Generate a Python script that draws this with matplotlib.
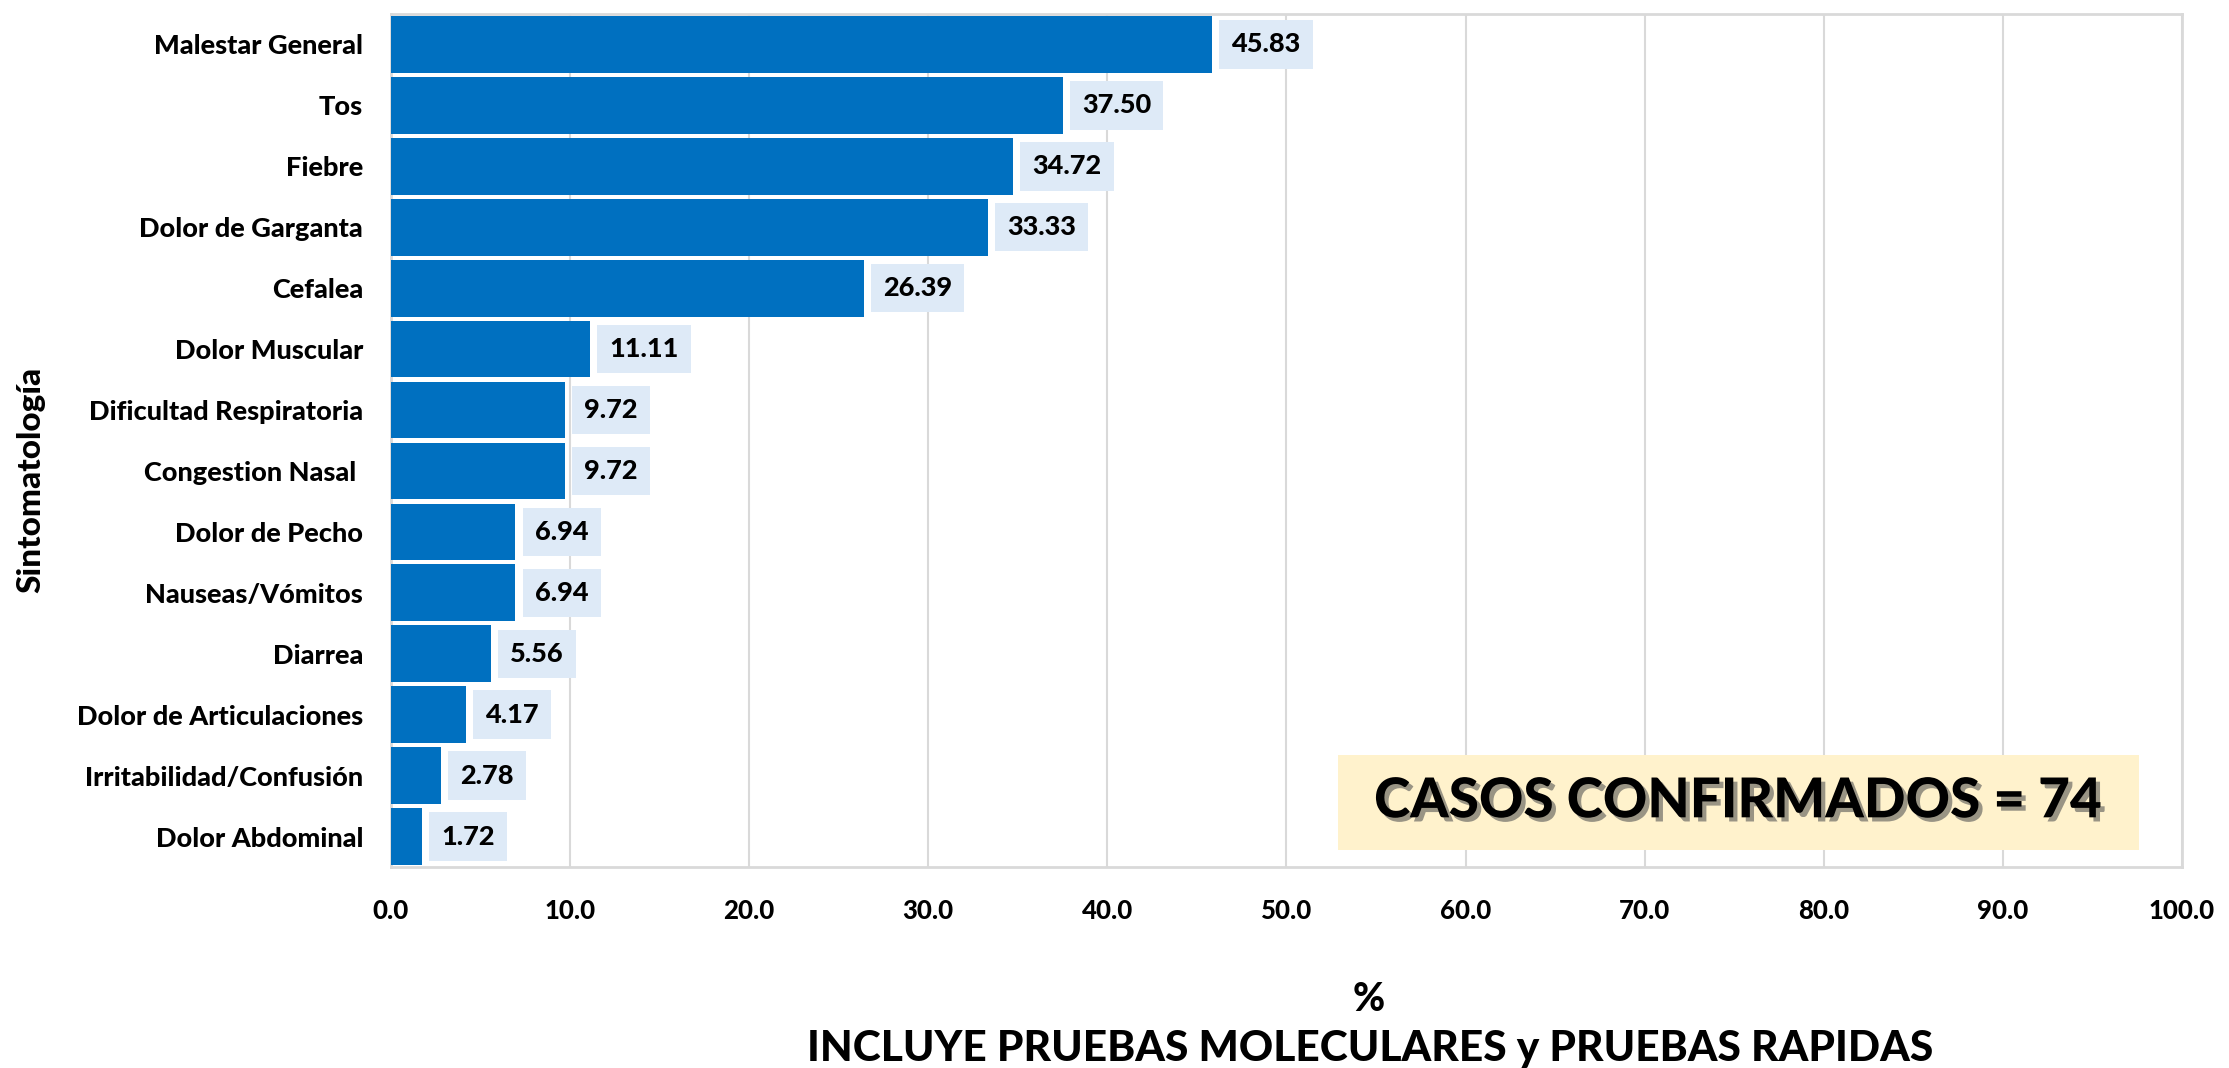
import matplotlib
matplotlib.use("Agg")
import matplotlib.pyplot as plt
import matplotlib.patheffects as pe
from matplotlib.patches import Rectangle
import numpy as np

plt.rcParams['font.family'] = ['Lato', 'DejaVu Sans']

sintomas = ['Malestar General', 'Tos', 'Fiebre', 'Dolor de Garganta', 'Cefalea',
            'Dolor Muscular', 'Dificultad Respiratoria', 'Congestion Nasal ',
            'Dolor de Pecho', 'Nauseas/Vómitos', 'Diarrea', 'Dolor de Articulaciones',
            'Irritabilidad/Confusión', 'Dolor Abdominal']
porcentaje = [45.83, 37.50, 34.72, 33.33, 26.39, 11.11, 9.72, 9.72, 6.94, 6.94,
              5.56, 4.17, 2.78, 1.72]
xticks = np.arange(0, 101, 10)

W = 'black'

fig = plt.figure(figsize=(22.29, 10.68), dpi=100)
ax = fig.add_axes([0.1754, 0.1882, 0.9789 - 0.1754, 0.9869 - 0.1882])

y = np.arange(len(sintomas))
ax.barh(y, porcentaje, height=0.93, color='#0070C0', zorder=3)
ax.set_ylim(len(sintomas) - 0.5, -0.5)
ax.set_xlim(0, 100)

for yi, v in zip(y, porcentaje):
    ax.annotate(f'{v:.2f}', xy=(v, yi), xytext=(14, 0), textcoords='offset points',
                ha='left', va='center', fontsize=19.5, fontweight=W, color='black',
                bbox=dict(boxstyle='square,pad=0.45', fc='#DEEAF7', ec='none'), zorder=4)

ax.set_yticks(y)
ax.set_yticklabels(sintomas, fontsize=19.5, fontweight=W)
ax.set_xticks(xticks)
ax.set_xticklabels([f'{t:.1f}' for t in xticks], fontsize=18.5, fontweight=W)
ax.tick_params(axis='x', length=0, pad=23)
ax.tick_params(axis='y', length=0, pad=20)
ax.grid(axis='x', color='#D9D9D9', linewidth=1.5, zorder=0)
for s in ax.spines.values():
    s.set_color('#D9D9D9')
    s.set_linewidth(2)

ax.set_ylabel('Sintomatología', fontsize=24, fontweight=W)
ax.yaxis.set_label_coords(-0.193, 0.454)

fig.text(0.614, 0.064, '%', ha='center', va='center', fontsize=28, fontweight=W)
fig.text(0.6145, 0.018, 'INCLUYE PRUEBAS MOLECULARES y PRUEBAS RAPIDAS', ha='center',
         va='center', fontsize=30.5, fontweight=W)

ax.add_patch(Rectangle((0.529, 0.02), 0.447, 0.111, transform=ax.transAxes,
                       fc='#FFF2CC', ec='none', zorder=5))
ax.text(0.752, 0.077, 'CASOS CONFIRMADOS = 74', transform=ax.transAxes, ha='center',
        va='center', fontsize=39.5, fontweight=W, color='black', zorder=6,
        path_effects=[pe.withSimplePatchShadow(offset=(3, -3), shadow_rgbFace='#555555', alpha=0.6)])

fig.savefig('out.png', dpi=100)
